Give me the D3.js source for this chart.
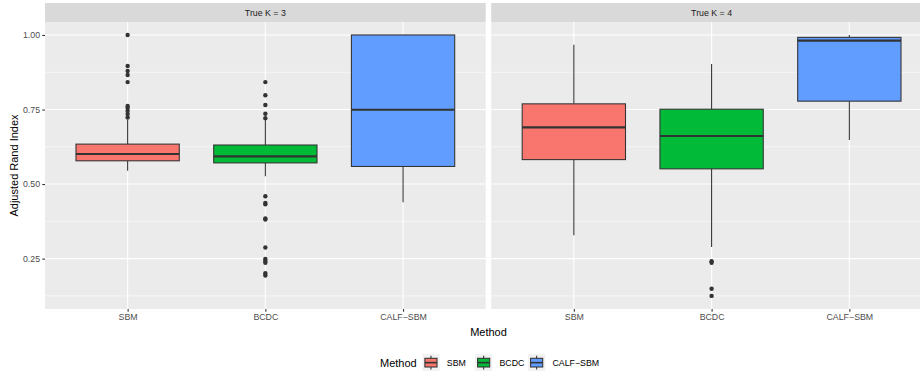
<!DOCTYPE html>
<html>
<head>
<meta charset="utf-8">
<script src="https://cdn.jsdelivr.net/npm/d3@7"></script>
<style>
  html, body { margin: 0; padding: 0; background: #fff; }
  svg { display: block; font-family: "Liberation Sans", Arial, Helvetica, sans-serif; }
</style>
</head>
<body>
<script>
'use strict';

// categories and facets
const methods = ['SBM', 'BCDC', 'CALF\u2212SBM'];
const facets  = ['True K = 3', 'True K = 4'];
const colors  = ['#F8766D', '#00BA38', '#619CFF'];

// box stats per method: [lower whisker, Q1, median, Q3, upper whisker]
const k3Stats = [
  [0.545, 0.578, 0.601, 0.634, 0.716],
  [0.526, 0.571, 0.593, 0.631, 0.716],
  [0.439, 0.559, 0.749, 1.000, 1.000]
];
const k4Stats = [
  [0.328, 0.582, 0.690, 0.769, 0.967],
  [0.289, 0.551, 0.661, 0.751, 0.903],
  [0.648, 0.778, 0.981, 0.992, 1.000]
];

// outliers per method
const k3Outliers = [
  [1.000, 0.896, 0.879, 0.866, 0.842, 0.762, 0.756, 0.746, 0.735, 0.723],
  [0.842, 0.798, 0.765, 0.736, 0.721, 0.459, 0.437, 0.432, 0.385, 0.381,
   0.287, 0.249, 0.242, 0.236, 0.201, 0.193],
  []
];
const k4Outliers = [
  [],
  [0.241, 0.236, 0.149, 0.125],
  []
];

const yTicks = [0.25, 0.50, 0.75, 1.00];
const yMinor = [0.125, 0.375, 0.625, 0.875];

const stats    = [k3Stats, k4Stats];
const outliers = [k3Outliers, k4Outliers];

const W = 920, H = 371;
const panelTop = 22, panelBottom = 309;
const stripTop = 3;
const panels = [
  { x0: 45,    x1: 485.7 },
  { x0: 491.2, x1: 932 }
];

const svg = d3.select('body').append('svg')
  .attr('width', W)
  .attr('height', H)
  .attr('viewBox', '0 0 ' + W + ' ' + H);

const y = d3.scaleLinear().domain([0.081, 1.0435]).range([panelBottom, panelTop]);

panels.forEach((p, pi) => {
  const x = d3.scalePoint().domain(methods).range([p.x0, p.x1]).padding(0.6);
  const bw = x.step() * 0.75;
  const g = svg.append('g');

  // strip
  g.append('rect')
    .attr('x', p.x0).attr('y', stripTop)
    .attr('width', p.x1 - p.x0).attr('height', panelTop - stripTop)
    .attr('fill', '#D9D9D9');
  g.append('text')
    .attr('x', (p.x0 + p.x1) / 2).attr('y', (stripTop + panelTop) / 2 + 3.2)
    .attr('text-anchor', 'middle')
    .attr('font-size', 8.8)
    .attr('fill', '#1A1A1A')
    .text(facets[pi]);

  // panel background
  g.append('rect')
    .attr('x', p.x0).attr('y', panelTop)
    .attr('width', p.x1 - p.x0).attr('height', panelBottom - panelTop)
    .attr('fill', '#EBEBEB');

  // grid
  g.selectAll('.minor').data(yMinor).enter().append('line')
    .attr('x1', p.x0).attr('x2', p.x1)
    .attr('y1', d => y(d)).attr('y2', d => y(d))
    .attr('stroke', '#fff').attr('stroke-width', 0.55);
  g.selectAll('.major').data(yTicks).enter().append('line')
    .attr('x1', p.x0).attr('x2', p.x1)
    .attr('y1', d => y(d)).attr('y2', d => y(d))
    .attr('stroke', '#fff').attr('stroke-width', 1.1);
  g.selectAll('.vmajor').data(methods).enter().append('line')
    .attr('x1', d => x(d)).attr('x2', d => x(d))
    .attr('y1', panelTop).attr('y2', panelBottom)
    .attr('stroke', '#fff').attr('stroke-width', 1.1);

  // boxes
  methods.forEach((m, mi) => {
    const s = stats[pi][mi];
    const cx = x(m);
    g.append('line')
      .attr('x1', cx).attr('x2', cx)
      .attr('y1', y(s[0])).attr('y2', y(s[1]))
      .attr('stroke', '#333333').attr('stroke-width', 1.07);
    g.append('line')
      .attr('x1', cx).attr('x2', cx)
      .attr('y1', y(s[3])).attr('y2', y(s[4]))
      .attr('stroke', '#333333').attr('stroke-width', 1.07);
    g.append('rect')
      .attr('x', cx - bw / 2).attr('y', y(s[3]))
      .attr('width', bw).attr('height', y(s[1]) - y(s[3]))
      .attr('fill', colors[mi])
      .attr('stroke', '#333333').attr('stroke-width', 1.07);
    g.append('line')
      .attr('x1', cx - bw / 2).attr('x2', cx + bw / 2)
      .attr('y1', y(s[2])).attr('y2', y(s[2]))
      .attr('stroke', '#333333').attr('stroke-width', 2.1);
    g.selectAll(null).data(outliers[pi][mi]).enter().append('circle')
      .attr('cx', cx).attr('cy', d => y(d))
      .attr('r', 2.2)
      .attr('fill', '#333333');
  });

  // x axis
  const xa = g.append('g')
    .attr('transform', 'translate(0,' + panelBottom + ')')
    .call(d3.axisBottom(x).tickSize(2.75).tickPadding(2.2));
  xa.select('.domain').remove();
  xa.selectAll('line').attr('stroke', '#333333').attr('stroke-width', 1.07);
  xa.selectAll('text').attr('font-size', 8.8).attr('fill', '#4D4D4D')
    .attr('font-family', 'Liberation Sans, Arial, sans-serif');
});

// y axis
const ya = svg.append('g')
  .attr('transform', 'translate(' + panels[0].x0 + ',0)')
  .call(d3.axisLeft(y).tickValues(yTicks).tickFormat(d3.format('.2f'))
    .tickSize(2.75).tickPadding(2.2));
ya.select('.domain').remove();
ya.selectAll('line').attr('stroke', '#333333').attr('stroke-width', 1.07);
ya.selectAll('text').attr('font-size', 8.8).attr('fill', '#4D4D4D')
  .attr('font-family', 'Liberation Sans, Arial, sans-serif');

// axis titles
svg.append('text')
  .attr('transform', 'translate(17.5,' + ((panelTop + panelBottom) / 2) + ') rotate(-90)')
  .attr('text-anchor', 'middle')
  .attr('font-size', 11)
  .attr('fill', '#000')
  .text('Adjusted Rand Index');

svg.append('text')
  .attr('x', (panels[0].x0 + panels[1].x1) / 2).attr('y', 335.5)
  .attr('text-anchor', 'middle')
  .attr('font-size', 11)
  .attr('fill', '#000')
  .text('Method');

// legend
const legY = 354;
const leg = svg.append('g');
leg.append('text')
  .attr('x', 380).attr('y', legY + 13)
  .attr('font-size', 11).attr('fill', '#000')
  .text('Method');

const keyX = [422.3, 475, 528];
methods.forEach((m, mi) => {
  const kx = keyX[mi];
  const k = leg.append('g').attr('transform', 'translate(' + kx + ',' + legY + ')');
  k.append('rect').attr('width', 17.3).attr('height', 17.3).attr('fill', '#F2F2F2');
  k.append('line').attr('x1', 8.65).attr('x2', 8.65).attr('y1', 1.7).attr('y2', 15.6)
    .attr('stroke', '#333333').attr('stroke-width', 1.07);
  k.append('rect').attr('x', 2.6).attr('y', 4.3).attr('width', 12.1).attr('height', 8.7)
    .attr('fill', colors[mi]).attr('stroke', '#333333').attr('stroke-width', 1.07);
  k.append('line').attr('x1', 2.6).attr('x2', 14.7).attr('y1', 8.65).attr('y2', 8.65)
    .attr('stroke', '#333333').attr('stroke-width', 1.6);
  leg.append('text')
    .attr('x', kx + 24.5).attr('y', legY + 11.8)
    .attr('font-size', 8.8).attr('fill', '#000')
    .text(m);
});
</script>
</body>
</html>
